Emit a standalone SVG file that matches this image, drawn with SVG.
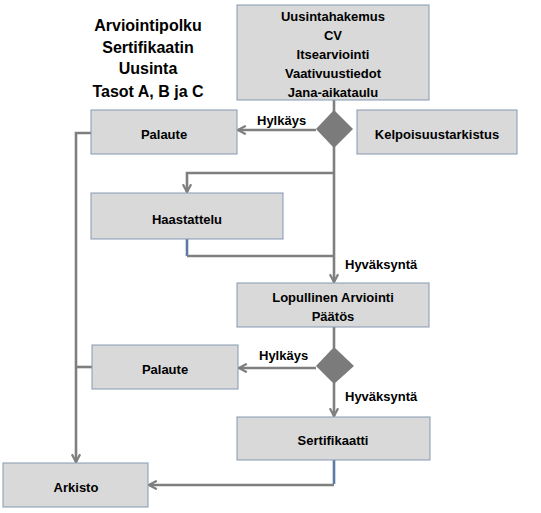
<svg xmlns="http://www.w3.org/2000/svg" width="541" height="513" viewBox="0 0 541 513">
<defs>
<marker id="arr" viewBox="0 0 10 10" refX="8.5" refY="5" markerWidth="4" markerHeight="4" markerUnits="strokeWidth" orient="auto">
<polyline points="1,1 8.5,5 1,9" fill="none" stroke="#7f7f7f" stroke-width="2.2"/>
</marker>
<style>
.box{fill:#d9d9d9;stroke:#8597b2;stroke-width:1}
.dia{fill:#7b7b7b;stroke:none}
.t{font-family:"Liberation Sans",Arial,sans-serif;font-weight:bold;font-size:13px;fill:#000;text-anchor:middle}
.ttl{font-family:"Liberation Sans",Arial,sans-serif;font-weight:bold;font-size:16px;fill:#000;text-anchor:middle}
.lbl{font-family:"Liberation Sans",Arial,sans-serif;font-weight:bold;font-size:13px;fill:#000;text-anchor:start}
.c{fill:none;stroke:#7f7f7f;stroke-width:2.6}
.cb{fill:none;stroke:#5b7aa5;stroke-width:2.6}
</style>
</defs>
<rect width="541" height="513" fill="#ffffff"/>
<g id="title">
<text class="ttl" x="148" y="31">Arviointipolku</text>
<text class="ttl" x="148" y="53">Sertifikaatin</text>
<text class="ttl" x="148" y="74">Uusinta</text>
<text class="ttl" x="148" y="97">Tasot A, B ja C</text>
</g>
<g id="connectors">
<line class="c" x1="334" y1="100" x2="334" y2="282" marker-end="url(#arr)"/>
<line class="c" x1="316" y1="130" x2="238" y2="130" marker-end="url(#arr)"/>
<polyline class="c" points="334,173 187,173 187,192" marker-end="url(#arr)"/>
<line class="cb" x1="187" y1="239" x2="187" y2="256"/>
<polyline class="c" points="187,256 334,256"/>
<line class="c" x1="334" y1="327" x2="334" y2="348"/>
<line class="c" x1="316" y1="368" x2="239" y2="368" marker-end="url(#arr)"/>
<line class="c" x1="334" y1="383" x2="334" y2="416" marker-end="url(#arr)"/>
<line class="cb" x1="334" y1="460" x2="334" y2="484"/>
<polyline class="c" points="334,485 149,485" marker-end="url(#arr)"/>
<polyline class="c" points="91,133 76,133 76,462" marker-end="url(#arr)"/>
<line class="c" x1="76" y1="367" x2="92" y2="367"/>
<text class="lbl" x="257" y="125">Hylkäys</text>
<text class="lbl" x="345" y="269">Hyväksyntä</text>
<text class="lbl" x="259" y="360">Hylkäys</text>
<text class="lbl" x="345" y="401">Hyväksyntä</text>
</g>
<g id="hakemus">
<rect class="box" x="237" y="5" width="192" height="95"/>
<text class="t" x="333" y="21">Uusintahakemus</text>
<text class="t" x="333" y="40">CV</text>
<text class="t" x="333" y="59">Itsearviointi</text>
<text class="t" x="333" y="78">Vaativuustiedot</text>
<text class="t" x="333" y="97">Jana-aikataulu</text>
</g>
<g id="palaute1">
<rect class="box" x="91" y="110" width="146" height="44"/>
<text class="t" x="164" y="139">Palaute</text>
</g>
<g id="diamond1">
<polygon class="dia" points="334,110 353,129 334,148 316,129"/>
</g>
<g id="kelpoisuus">
<rect class="box" x="357" y="110" width="160" height="44"/>
<text class="t" x="437" y="139">Kelpoisuustarkistus</text>
</g>
<g id="haastattelu">
<rect class="box" x="91" y="193" width="192" height="46"/>
<text class="t" x="187" y="224">Haastattelu</text>
</g>
<g id="lopullinen">
<rect class="box" x="237" y="283" width="192" height="44"/>
<text class="t" x="333" y="302">Lopullinen Arviointi</text>
<text class="t" x="333" y="321">Päätös</text>
</g>
<g id="diamond2">
<polygon class="dia" points="334,347 354,366 334,384 316,366"/>
</g>
<g id="palaute2">
<rect class="box" x="92" y="345" width="146" height="44"/>
<text class="t" x="165" y="374">Palaute</text>
</g>
<g id="sertifikaatti">
<rect class="box" x="237" y="417" width="193" height="43"/>
<text class="t" x="333" y="445">Sertifikaatti</text>
</g>
<g id="arkisto">
<rect class="box" x="3" y="463" width="145" height="44"/>
<text class="t" x="76" y="492">Arkisto</text>
</g>
</svg>
